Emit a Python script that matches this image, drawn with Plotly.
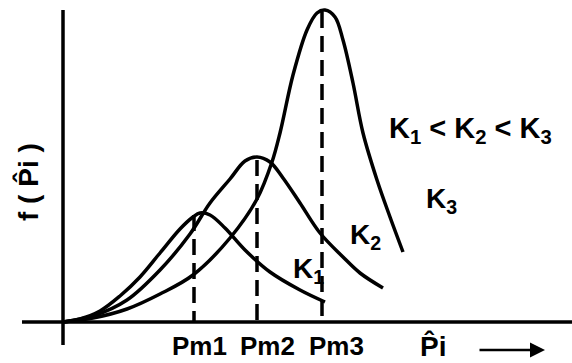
import plotly.graph_objects as go

# Frequency curves f(P̂i) for three K values; x = P̂i, y = f(P̂i) (arbitrary units)
k1_x = [0, 17, 37, 57, 77, 97, 117, 130, 137, 147, 162, 182, 207, 237, 262]
k1_y = [0, 3, 11, 26, 45, 69, 93, 105, 109, 107, 94, 72, 50, 32, 20]

k2_x = [0, 30, 64, 97, 127, 147, 167, 182, 194, 207, 220, 237, 257, 280, 297, 320]
k2_y = [0, 6, 22, 52, 88, 119, 143, 161, 165, 160, 144, 119, 89, 65, 49, 34]

k3_x = [0, 30, 64, 97, 130, 167, 194, 209, 217, 230, 244, 254, 262, 272, 280, 290, 300, 314, 327, 340]
k3_y = [0, 4, 13, 28, 47, 84, 123, 160, 189, 247, 292, 309, 312, 305, 282, 239, 189, 142, 105, 70]

# Modes of each curve
modes = [131, 194, 259]
mode_tops = [107, 162, 310]
mode_labels = ["Pm1", "Pm2", "Pm3"]
mode_label_x = [136, 204, 273]

curve_labels = ["K<sub>1</sub>", "K<sub>2</sub>", "K<sub>3</sub>"]
curve_label_xy = [(245, 52), (302, 86), (378, 122)]

ink = "black"
font_family = "Liberation Sans, Arial, sans-serif"

fig = go.Figure()

for xs, ys in [(k1_x, k1_y), (k2_x, k2_y), (k3_x, k3_y)]:
    fig.add_trace(go.Scatter(x=xs, y=ys, mode="lines",
                             line=dict(color=ink, width=3.5, shape="spline", smoothing=1.0),
                             hoverinfo="skip", showlegend=False))

# Dashed drop lines at the modes
for m, top in zip(modes, mode_tops):
    fig.add_trace(go.Scatter(x=[m, m], y=[top, 0], mode="lines",
                             line=dict(color=ink, width=3.5, dash="16px,8px"),
                             hoverinfo="skip", showlegend=False))

# Axes drawn as thick lines
fig.add_shape(type="line", x0=0, x1=0, y0=-23, y1=312, line=dict(color=ink, width=3.5))
fig.add_shape(type="line", x0=-41, x1=509, y0=0, y1=0, line=dict(color=ink, width=3.5))

annotations = []
for lab, lx in zip(mode_labels, mode_label_x):
    annotations.append(dict(x=lx, y=-24, text=f"<b>{lab}</b>", showarrow=False,
                            font=dict(family=font_family, size=26, color=ink)))

for lab, (lx, ly) in zip(curve_labels, curve_label_xy):
    annotations.append(dict(x=lx, y=ly, text=f"<b>{lab}</b>", showarrow=False,
                            font=dict(family=font_family, size=28, color=ink)))

annotations.append(dict(x=407, y=192,
                        text="<b>K<sub>1</sub> &lt; K<sub>2</sub> &lt; K<sub>3</sub></b>",
                        showarrow=False, font=dict(family=font_family, size=29, color=ink)))

# Axis titles
annotations.append(dict(x=-35, y=140, text="<b>f ( P\u0302i )</b>", textangle=-90,
                        showarrow=False, font=dict(family=font_family, size=28, color=ink)))
annotations.append(dict(x=370, y=-24, text="<b>P\u0302i</b>", showarrow=False,
                        font=dict(family=font_family, size=28, color=ink)))
annotations.append(dict(x=482, y=-28, ax=415, ay=-28, axref="x", ayref="y",
                        xref="x", yref="y", text="", showarrow=True,
                        arrowhead=2, arrowsize=1.2, arrowwidth=2.5, arrowcolor=ink))

fig.update_layout(
    width=572, height=363,
    margin=dict(l=0, r=0, t=0, b=0),
    paper_bgcolor="white", plot_bgcolor="white",
    xaxis=dict(range=[-63, 509], visible=False, fixedrange=True),
    yaxis=dict(range=[-41, 322], visible=False, fixedrange=True),
    annotations=annotations,
)

fig.write_html("out.html")
